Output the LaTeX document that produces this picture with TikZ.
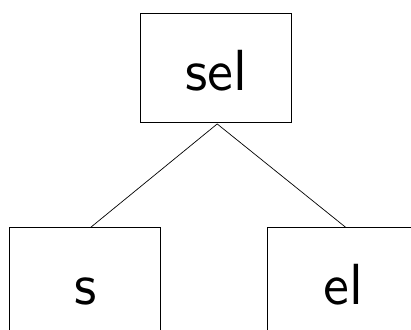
\documentclass[tikz,border=0pt]{standalone}
\usepackage{tikz}
\usetikzlibrary{positioning}
\newcommand{\boxtext}[1]{\scalebox{5.8}{\sffamily #1}}
\tikzset{
 treebox/.style={
 rectangle,
 draw=black,
 line width=0.8pt,
 inner sep=0pt,
 minimum width=151pt,
 minimum height=108.5pt,
 text height=45pt,
 text depth=0pt
 },
 treeedge/.style={line width=0.7pt, draw=black}
}
\begin{document}
\begin{tikzpicture}[x=1pt,y=-1pt]
 \useasboundingbox (0,0) rectangle (411,329);
 \node[treebox] (sel) at (216.2,67.8) {\boxtext{sel}};
 \node[treebox] (s) at (85.2,282) {\boxtext{s}};
 \node[treebox] (el) at (343.1,282) {\boxtext{el}};

 \draw[treeedge] ([xshift=1pt,yshift=-1.5pt]sel.south) -- ([xshift=5.5pt]s.north);
 \draw[treeedge] ([xshift=1pt,yshift=-1.5pt]sel.south) -- ([xshift=2.6pt]el.north);
\end{tikzpicture}
\end{document}
